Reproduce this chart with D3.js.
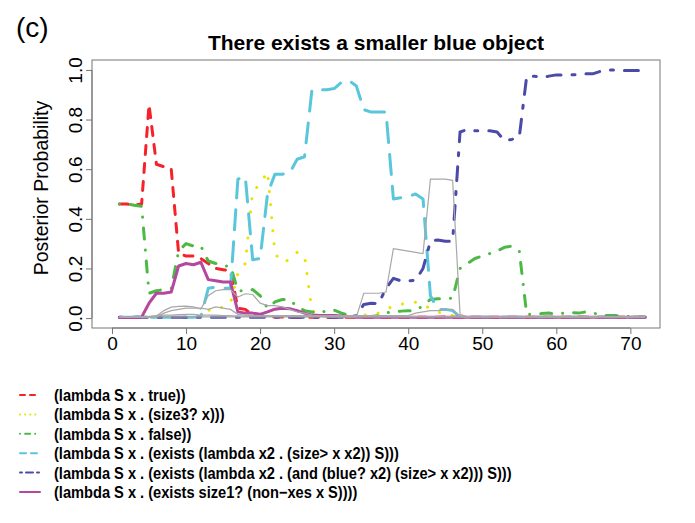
<!DOCTYPE html>
<html>
<head>
<meta charset="utf-8">
<script src="https://cdn.jsdelivr.net/npm/d3@7"></script>
<style>
  body { margin: 0; background: #fff; }
  svg { display: block; font-family: "Liberation Sans", Arial, Helvetica, sans-serif; }
  .leg { font-size: 16.5px; font-weight: bold; fill: #000; }
</style>
</head>
<body>
<div id="plot"></div>
<script>
// time steps 1..72
const steps = d3.range(1, 73)

const redTrue = [0.46,0.46,0.455,0.46,0.86,0.62,0.61,0.60,0.26,0.25,0.25,0.24,0.22,0.20,0.195,0.19,0.04,0.035,0.012,0.008,
  0.005,0.004,0.004,0.003,0.003,0.003,0.004,0.003,0.003,0.003,0.003,0.004,0.003,0.003,0.003,0.003,0.003,0.004,0.003,0.003,
  0.003,0.003,0.003,0.003,0.004,0.003,0.003,0.003,0.003,0.003,0.003,0.003,0.003,0.003,0.003,0.003,0.003,0.003,0.003,0.004,
  0.003,0.003,0.004,0.003,0.003,0.003,0.003,0.003,0.003,0.003,0.003,0.003]
const yellowSize3 = [0.003,0.003,0.003,0.003,0.003,0.003,0.003,0.003,0.003,0.003,0.003,0.008,0.03,0.044,0.044,0.06,0.18,0.22,0.51,0.54,
  0.59,0.26,0.225,0.235,0.265,0.25,0.03,0.015,0.01,0.008,0.006,0.005,0.008,0.012,0.015,0.02,0.035,0.048,0.056,0.06,
  0.064,0.05,0.04,0.025,0.015,0.01,0.005,0.003,0.003,0.003,0.003,0.003,0.003,0.003,0.003,0.003,0.003,0.003,0.003,0.003,
  0.003,0.003,0.003,0.003,0.003,0.003,0.003,0.003,0.003,0.003,0.003,0.003]
const greenFalse = [0.46,0.46,0.455,0.45,0.10,0.11,0.115,0.12,0.27,0.30,0.29,0.29,0.23,0.22,0.21,0.21,0.11,0.11,0.115,0.09,
  0.04,0.065,0.075,0.075,0.045,0.03,0.025,0.02,0.03,0.032,0.02,0.01,0.005,0.005,0.006,0.01,0.02,0.028,0.028,0.03,
  0.03,0.05,0.075,0.078,0.078,0.08,0.2,0.22,0.24,0.25,0.26,0.27,0.285,0.29,0.27,0.015,0.015,0.018,0.02,0.016,
  0.02,0.022,0.02,0.025,0.02,0.012,0.01,0.01,0.008,0.006,0.005,0.004]
const cyanSizeGt = [0.003,0.003,0.003,0.003,0.003,0.003,0.003,0.003,0.003,0.003,0.003,0.005,0.12,0.125,0.12,0.12,0.56,0.57,0.235,0.24,
  0.50,0.58,0.58,0.585,0.64,0.65,0.92,0.92,0.92,0.925,0.95,0.957,0.935,0.84,0.83,0.83,0.83,0.48,0.485,0.49,
  0.50,0.48,0.09,0.035,0.035,0.03,0.004,0.003,0.003,0.003,0.003,0.003,0.003,0.003,0.003,0.003,0.003,0.003,0.003,0.003,
  0.003,0.003,0.003,0.003,0.003,0.003,0.003,0.003,0.003,0.003,0.003,0.003]
const blueAnd = [0.003,0.003,0.003,0.003,0.003,0.003,0.003,0.003,0.003,0.003,0.003,0.003,0.003,0.003,0.003,0.003,0.003,0.003,0.003,0.003,
  0.003,0.003,0.003,0.003,0.003,0.003,0.003,0.003,0.003,0.003,0.003,0.003,0.01,0.055,0.06,0.058,0.12,0.16,0.15,0.15,
  0.152,0.2,0.31,0.315,0.31,0.31,0.75,0.76,0.755,0.755,0.755,0.75,0.715,0.72,0.73,0.975,0.975,0.97,0.975,0.98,
  0.98,0.98,0.982,0.985,0.985,0.995,1.0,1.0,0.998,0.998,0.998,0.998]
const magentaSize1 = [0.002,0.002,0.002,0.004,0.06,0.1,0.1,0.105,0.21,0.22,0.215,0.225,0.155,0.15,0.145,0.145,0.025,0.02,0.02,0.015,
  0.025,0.036,0.04,0.038,0.03,0.02,0.012,0.01,0.01,0.01,0.008,0.006,0.003,0.003,0.003,0.003,0.003,0.003,0.003,0.003,
  0.003,0.003,0.003,0.003,0.003,0.003,0.003,0.003,0.003,0.003,0.003,0.003,0.003,0.003,0.003,0.003,0.003,0.003,0.003,0.003,
  0.003,0.003,0.003,0.003,0.003,0.003,0.003,0.003,0.003,0.003,0.003,0.003]

// other hypotheses, thin grey
const greyA = [0.005,0.005,0.005,0.005,0.005,0.005,0.005,0.005,0.005,0.005,0.005,0.005,0.005,0.005,0.005,0.005,0.005,0.005,0.005,0.005,
  0.005,0.005,0.005,0.005,0.005,0.005,0.005,0.005,0.005,0.005,0.005,0.005,0.005,0.1,0.1,0.1,0.105,0.28,0.275,0.27,
  0.265,0.26,0.56,0.56,0.56,0.555,0.015,0.005,0.005,0.005,0.005,0.005,0.005,0.005,0.005,0.005,0.005,0.005,0.005,0.005,
  0.005,0.005,0.005,0.005,0.005,0.005,0.005,0.005,0.005,0.005,0.005,0.005]
const greyB = [0.003,0.003,0.003,0.003,0.003,0.008,0.03,0.044,0.047,0.048,0.045,0.036,0.09,0.11,0.115,0.115,0.085,0.098,0.095,0.06,
  0.05,0.05,0.045,0.035,0.025,0.02,0.012,0.008,0.005,0.005,0.005,0.005,0.005,0.005,0.005,0.005,0.005,0.005,0.005,0.005,
  0.005,0.005,0.005,0.005,0.005,0.005,0.005,0.005,0.005,0.005,0.005,0.005,0.005,0.005,0.005,0.005,0.005,0.005,0.005,0.005,
  0.005,0.005,0.005,0.005,0.005,0.005,0.005,0.005,0.005,0.005,0.005,0.005]
const greyC = [0.004,0.004,0.004,0.004,0.004,0.004,0.02,0.03,0.035,0.04,0.04,0.04,0.035,0.045,0.04,0.035,0.015,0.012,0.01,0.01,
  0.01,0.01,0.01,0.01,0.01,0.01,0.01,0.01,0.01,0.01,0.01,0.01,0.01,0.01,0.01,0.01,0.01,0.01,0.01,0.01,
  0.02,0.025,0.03,0.03,0.035,0.035,0.005,0.004,0.004,0.004,0.004,0.004,0.004,0.004,0.004,0.004,0.004,0.004,0.004,0.004,
  0.004,0.004,0.004,0.004,0.004,0.004,0.004,0.004,0.004,0.004,0.004,0.004]
const greyD = [0.006,0.006,0.006,0.006,0.007,0.01,0.012,0.012,0.014,0.015,0.015,0.012,0.012,0.012,0.01,0.01,0.008,0.008,0.008,0.008,
  0.007,0.007,0.007,0.007,0.007,0.006,0.006,0.006,0.006,0.006,0.006,0.006,0.006,0.006,0.006,0.006,0.006,0.006,0.006,0.006,
  0.006,0.006,0.006,0.006,0.006,0.006,0.006,0.006,0.006,0.006,0.006,0.006,0.006,0.006,0.006,0.006,0.006,0.006,0.006,0.006,
  0.006,0.006,0.006,0.006,0.006,0.006,0.006,0.006,0.006,0.006,0.006,0.006]

const legendLabels = [
  "(lambda S x . true))",
  "(lambda S x . (size3? x)))",
  "(lambda S x . false))",
  "(lambda S x . (exists (lambda x2 . (size> x x2)) S)))",
  "(lambda S x . (exists (lambda x2 . (and (blue? x2) (size> x x2))) S)))",
  "(lambda S x . (exists size1? (non\u2212xes x S))))"
]
const xTicks = [0, 10, 20, 30, 40, 50, 60, 70]
const yTicks = [0, 0.2, 0.4, 0.6, 0.8, 1.0]

const series = [
  {values: redTrue,      color: "#f5222a", dash: "9,9",          width: 3},
  {values: yellowSize3,  color: "#e8e400", dash: "0.1,13",       width: 3},
  {values: greenFalse,   color: "#4cb944", dash: "0.1,11,11,11", width: 3},
  {values: cyanSizeGt,   color: "#5ac6dc", dash: "20,12",        width: 3},
  {values: blueAnd,      color: "#4c4aa8", dash: "3,11,14,11",   width: 3},
  {values: magentaSize1, color: "#b5479f", dash: null,           width: 3}
]
const greys = [greyD, greyC, greyB, greyA]

const W = 695, H = 523
const x = d3.scaleLinear().domain([-2.7, 74]).range([92, 660])
const y = d3.scaleLinear().domain([-0.04, 1.04]).range([328, 60])

const svg = d3.select("#plot").append("svg")
  .attr("width", W).attr("height", H)

svg.append("text")
  .attr("x", 16).attr("y", 37)
  .style("font-size", "28px")
  .text("(c)")

svg.append("text")
  .attr("x", 376).attr("y", 50)
  .attr("text-anchor", "middle")
  .style("font-size", "21px").style("font-weight", "bold")
  .text("There exists a smaller blue object")

// plot box
svg.append("rect")
  .attr("x", 92).attr("y", 60)
  .attr("width", 568).attr("height", 268)
  .attr("fill", "none").attr("stroke", "#777").attr("stroke-width", 1)

// axes, R style
const xAxis = svg.append("g")
  .attr("transform", "translate(0,328)")
  .call(d3.axisBottom(x).tickValues(xTicks).tickSize(6).tickPadding(3).tickFormat(d3.format("d")))
xAxis.select(".domain").attr("d", `M${x(0)},0H${x(70)}`).attr("stroke", "#777")
xAxis.selectAll(".tick line").attr("stroke", "#777")
xAxis.selectAll(".tick text").style("font-size", "19px")

const yAxis = svg.append("g")
  .attr("transform", "translate(92,0)")
  .call(d3.axisLeft(y).tickValues(yTicks).tickSize(6).tickFormat(d3.format(".1f")))
yAxis.select(".domain").attr("d", `M0,${y(0)}V${y(1)}`).attr("stroke", "#777")
yAxis.selectAll(".tick line").attr("stroke", "#777")
yAxis.selectAll(".tick text")
  .attr("x", null).attr("dy", null)
  .attr("transform", "translate(-10,0) rotate(-90)")
  .attr("text-anchor", "middle")
  .style("font-size", "19px")

svg.selectAll(".tick text").attr("fill", "#000").attr("font-family", null)

svg.append("text")
  .attr("transform", "translate(48,188) rotate(-90)")
  .attr("text-anchor", "middle")
  .style("font-size", "19.5px")
  .text("Posterior Probability")

const line = d3.line()
  .x((d, i) => x(steps[i]))
  .y(d => y(d))

const lines = svg.append("g")

series.forEach(s => {
  lines.append("path")
    .datum(s.values)
    .attr("d", line)
    .attr("fill", "none")
    .attr("stroke", s.color)
    .attr("stroke-width", s.width)
    .attr("stroke-linecap", "round")
    .attr("stroke-linejoin", "round")
    .attr("stroke-dasharray", s.dash)
})

greys.forEach(g => {
  lines.append("path")
    .datum(g)
    .attr("d", line)
    .attr("fill", "none")
    .attr("stroke", "#a8a8a8")
    .attr("stroke-width", 1.2)
})

// legend
const legDash = ["5,5", "0.1,5", "0.1,5,5,5", "6,5", "2,4,7,4", null]
const leg = svg.append("g")
const legTexts = []
series.forEach((s, i) => {
  const ly = 395 + i * 19.4
  leg.append("line")
    .attr("x1", 20).attr("x2", 40)
    .attr("y1", ly).attr("y2", ly)
    .attr("stroke", s.color)
    .attr("stroke-width", 2)
    .attr("stroke-linecap", "round")
    .attr("stroke-dasharray", legDash[i])
  legTexts.push(leg.append("text")
    .attr("class", "leg")
    .attr("x", 0).attr("y", 0)
    .attr("data-y", ly + 6)
    .text(legendLabels[i]))
})
// the legend font is condensed: squeeze horizontally so the longest row ends near x=512
const longest = d3.max(legTexts, t => t.node().getComputedTextLength())
const squeeze = Math.min(1, 458 / longest)
legTexts.forEach(t => t.attr("transform", `translate(54,${t.attr("data-y")}) scale(${squeeze},1)`))
</script>
</body>
</html>
